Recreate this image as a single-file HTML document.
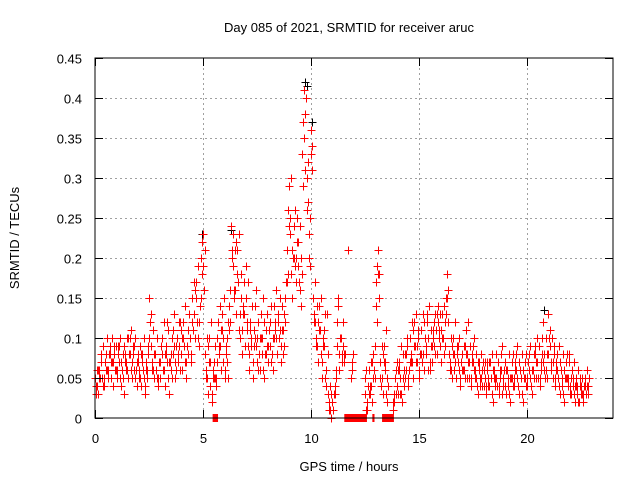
<!DOCTYPE html>
<html><head><meta charset="utf-8"><style>
body{margin:0;background:#fff}
svg text{font-family:"Liberation Sans",sans-serif;font-size:13px;fill:#000}
</style></head><body>
<svg id="chart" width="640" height="480" xmlns="http://www.w3.org/2000/svg">
<rect width="640" height="480" fill="#fff"/>
<text x="349" y="32" text-anchor="middle">Day 085 of 2021, SRMTID for receiver aruc</text>
<text x="349" y="471" text-anchor="middle">GPS time / hours</text>
<text transform="translate(19,238) rotate(-90)" text-anchor="middle">SRMTID / TECUs</text>
<g id="grid"></g>
<g id="marks"></g>
<rect x="95" y="58" width="518" height="360" fill="none" stroke="#000" stroke-width="1"/>
<g id="ticks"></g>
</svg>
<script>
const xTicks=[0,5,10,15,20];
const yTicks=[0,0.05,0.1,0.15,0.2,0.25,0.3,0.35,0.4,0.45];
const yTickLabels=["0","0.05","0.1","0.15","0.2","0.25","0.3","0.35","0.4","0.45"];
const seriesA=[.05,.04,.06,.07,.05,.08,.06,.09,.07,.08,
.06,.09,.07,.05,.08,.06,.10,.07,.09,.06,
.07,.05,.08,.04,.06,.15,.09,.06,.08,.05,
.07,.10,.06,.09,.05,.08,.11,.07,.10,.09,
.08,.12,.07,.11,.10,.15,.13,.17,.12,.20,
.23,.08,.05,.10,.03,.07,.05,.12,.09,.13,
.06,.10,.14,.24,.19,.16,.21,.13,.11,.17,
.15,.09,.12,.07,.14,.10,.08,.13,.06,.11,
.09,.12,.08,.14,.10,.13,.09,.11,.15,.21,
.29,.18,.24,.20,.22,.16,.33,.41,.30,.23,
.36,.15,.12,.09,.14,.07,.11,.06,.03,.01,
.02,.04,.12,.08,.10,.09,null,.21,null,.07,
null,null,null,null,null,.05,.02,.06,.04,.08,
.17,.21,.07,.05,.09,.03,null,null,.01,.05,
.04,.07,.03,.06,.08,.05,.10,.07,.12,.09,
.06,.11,.08,.10,.13,.07,.09,.12,.11,.14,
.09,.13,.12,.18,.08,.06,.10,.07,.09,.05,
.08,.06,.11,.07,.05,.09,.06,.04,.07,.05,
.06,.04,.05,.07,.03,.06,.05,.04,.08,.05,
.04,.06,.03,.07,.05,.08,.04,.06,.03,.07,
.05,.08,.04,.06,.09,.07,.05,.10,.08,.06,
.13,.09,.07,.05,.08,.04,.06,.03,.07,.05,
.04,.06,.03,.05,.02,.04,.03,.05,.04];
const seriesB=[.03,.06,.05,.04,.07,.06,.08,.05,.07,.06,
.08,.05,.06,.09,.07,.10,.06,.08,.05,.07,
.06,.08,.05,.07,.09,.12,.06,.08,.05,.07,
.09,.06,.08,.12,.07,.05,.09,.06,.08,.12,
.10,.07,.09,.13,.08,.11,.16,.10,.14,.18,
.16,.06,.09,.04,.06,.05,.10,.08,.11,.07,
.09,.05,.12,.20,.15,.22,.11,.18,.14,.09,
.12,.08,.10,.11,.09,.06,.10,.08,.12,.09,
.11,.07,.10,.12,.08,.11,.14,.09,.17,.26,
.23,.21,.19,.25,.17,.20,.37,.31,.27,.19,
.31,.13,.10,.12,.08,.10,.05,.13,.01,.03,
.01,.06,.15,.10,.07,.08,null,null,.05,null,
null,null,null,null,null,.01,.04,.03,.07,.05,
.12,.15,.04,.08,.06,.05,null,null,.03,.06,
.06,.03,.08,.05,.09,.06,.08,.11,.07,.10,
.08,.07,.12,.09,.06,.11,.10,.08,.13,.10,
.11,.08,.15,.12,.07,.09,.06,.08,.06,.07,
.06,.09,.05,.07,.08,.06,.05,.07,.04,.06,
.05,.07,.04,.05,.06,.04,.07,.05,.03,.06,
.06,.04,.05,.04,.06,.05,.07,.05,.06,.04,
.07,.05,.06,.08,.05,.09,.06,.07,.05,.08,
.10,.06,.08,.06,.05,.07,.04,.06,.05,.08,
.03,.05,.04,.03,.05,.03,.04,.03,.04];
const seriesC=[.04,.03,.05,.05,.04,.06,.05,.07,.04,.06,
.05,.07,.04,.03,.06,.05,.08,.05,.06,.04,
.05,.04,.06,.03,.05,.10,.07,.05,.06,.04,
.05,.08,.04,.07,.03,.06,.08,.05,.07,.06,
.06,.09,.05,.08,.07,.11,.10,.12,.09,.15,
.19,.05,.03,.07,.02,.05,.04,.09,.06,.10,
.05,.07,.11,.21,.16,.13,.17,.10,.08,.13,
.11,.06,.09,.05,.10,.07,.06,.10,.05,.08,
.07,.09,.06,.11,.08,.10,.07,.08,.12,.18,
.25,.15,.20,.17,.19,.14,.29,.38,.26,.20,
.33,.12,.09,.07,.11,.05,.09,.04,.02,.00,
.01,.03,.09,.06,.08,.07,null,null,null,.06,
null,null,null,null,null,.03,.01,.04,.02,.06,
.14,.18,.05,.03,.07,.02,null,null,.02,.03,
.03,.05,.02,.04,.06,.04,.07,.05,.09,.07,
.05,.08,.06,.08,.10,.06,.07,.09,.08,.11,
.07,.10,.09,.15,.06,.05,.08,.05,.07,.04,
.06,.05,.08,.05,.04,.07,.05,.03,.05,.04,
.04,.03,.04,.05,.02,.05,.04,.03,.06,.04,
.03,.05,.02,.05,.04,.06,.03,.05,.02,.05,
.04,.06,.03,.05,.07,.05,.04,.08,.06,.05,
.10,.07,.05,.04,.06,.03,.05,.02,.05,.04,
.03,.04,.02,.04,.02,.03,.02,.04,.03];
const seriesD=[.06,.05,.08,.09,.07,.10,.08,.10,.09,.09,
.09,.10,.08,.07,.10,.08,.11,.09,.10,.08,
.09,.07,.10,.06,.08,.13,.11,.08,.10,.07,
.09,.12,.08,.11,.07,.10,.13,.09,.12,.11,
.10,.14,.09,.13,.12,.17,.15,.19,.14,.22,
.21,.10,.07,.12,.05,.09,.07,.14,.11,.15,
.08,.12,.16,.23,.21,.18,.23,.15,.13,.19,
.17,.11,.14,.09,.16,.12,.10,.15,.08,.13,
.11,.14,.10,.16,.12,.15,.11,.13,.17,.24,
.30,.20,.26,.22,.24,.18,.35,.40,.32,.25,
.34,.17,.14,.11,.15,.09,.13,.08,.04,.02,
.03,.05,.14,.10,.12,.08,null,null,null,.08,
null,null,null,null,null,.06,.03,.07,.05,.09,
.19,.18,.09,.07,.11,.04,null,null,.02,.07,
.06,.09,.05,.08,.10,.07,.12,.09,.13,.11,
.08,.13,.10,.12,.14,.09,.11,.13,.12,.13,
.10,.14,.13,.16,.10,.08,.12,.09,.10,.07,
.09,.08,.12,.09,.07,.10,.08,.06,.08,.07,
.07,.06,.07,.08,.05,.08,.07,.06,.09,.07,
.06,.08,.05,.08,.07,.09,.06,.08,.05,.08,
.07,.09,.06,.08,.10,.09,.07,.12,.10,.08,
.11,.10,.09,.07,.09,.06,.08,.05,.08,.07,
.05,.07,.04,.06,.04,.05,.04,.06,.05];
const blackTimes=[9.75,9.8,10.05,4.95,6.3,20.8];
const blackValues=[0.42,0.415,0.37,0.23,0.235,0.135];
const gapStart=[5.45,11.55,12.85,13.3];
const gapEnd=[5.7,12.6,12.95,13.85];

const NS="http://www.w3.org/2000/svg";
const X0=95,X1=613,Y0=418,Y1=58,TMAX=24,VMAX=0.45;
function xs(t){return X0+(X1-X0)*t/TMAX;}
function ys(v){return Y0-(Y0-Y1)*v/VMAX;}
const grid=document.getElementById('grid'),marks=document.getElementById('marks'),ticks=document.getElementById('ticks');
function line(p,x1,y1,x2,y2,st,dash){const l=document.createElementNS(NS,'line');l.setAttribute('x1',x1);l.setAttribute('y1',y1);l.setAttribute('x2',x2);l.setAttribute('y2',y2);l.setAttribute('stroke',st);if(dash)l.setAttribute('stroke-dasharray',dash);p.appendChild(l);return l;}
yTicks.forEach((v,i)=>{const y=Math.round(ys(v))+0.5;
 if(i>0&&i<yTicks.length-1){const g=line(grid,X0,y,X1,y,'#a0a0a0','2,3');
 
 }
 line(ticks,X0,y,X0+8,y,'#000');line(ticks,X1-8,y,X1,y,'#000');
 const t=document.createElementNS(NS,'text');t.setAttribute('x',82);t.setAttribute('y',y+5);t.setAttribute('text-anchor','end');t.textContent=yTickLabels[i];
 
 
 ticks.appendChild(t);});
xTicks.forEach(v=>{const x=Math.round(xs(v))+0.5;
 if(v>0){const g=line(grid,x,Y1,x,Y0,'#a0a0a0','2,3');
 
 }
 line(ticks,x,Y0-8,x,Y0,'#000');line(ticks,x,Y1,x,Y1+8,'#000');
 const t=document.createElementNS(NS,'text');t.setAttribute('x',x);t.setAttribute('y',443);t.setAttribute('text-anchor','middle');t.textContent=String(v);
 
 
 ticks.appendChild(t);});
function plus(t,v,col){const x=Math.round(xs(t))+0.5,y=Math.round(ys(v))+0.5;
 const p=document.createElementNS(NS,'path');p.setAttribute('d',`M${x-4} ${y}H${x+4}M${x} ${y-4}V${y+4}`);p.setAttribute('stroke',col);p.setAttribute('fill','none');
 
 
 marks.appendChild(p);}
blackTimes.forEach((t,i)=>plus(t,blackValues[i],'#000'));
seriesA.forEach((v,i)=>{if(v!==null)plus(i*0.1,v,'#f00');});
seriesC.forEach((v,i)=>{if(v!==null)plus(i*0.1+0.025,v,'#f00');});
seriesB.forEach((v,i)=>{if(v!==null)plus(i*0.1+0.05,v,'#f00');});
seriesD.forEach((v,i)=>{if(v!==null)plus(i*0.1+0.075,v,'#f00');});
gapStart.forEach((s,i)=>{const r=document.createElementNS(NS,'rect');r.setAttribute('x',xs(s));r.setAttribute('y',Y0-4);r.setAttribute('width',xs(gapEnd[i])-xs(s));r.setAttribute('height',8);r.setAttribute('fill','#f00');
 
 
 marks.appendChild(r);});
</script>
</body></html>
